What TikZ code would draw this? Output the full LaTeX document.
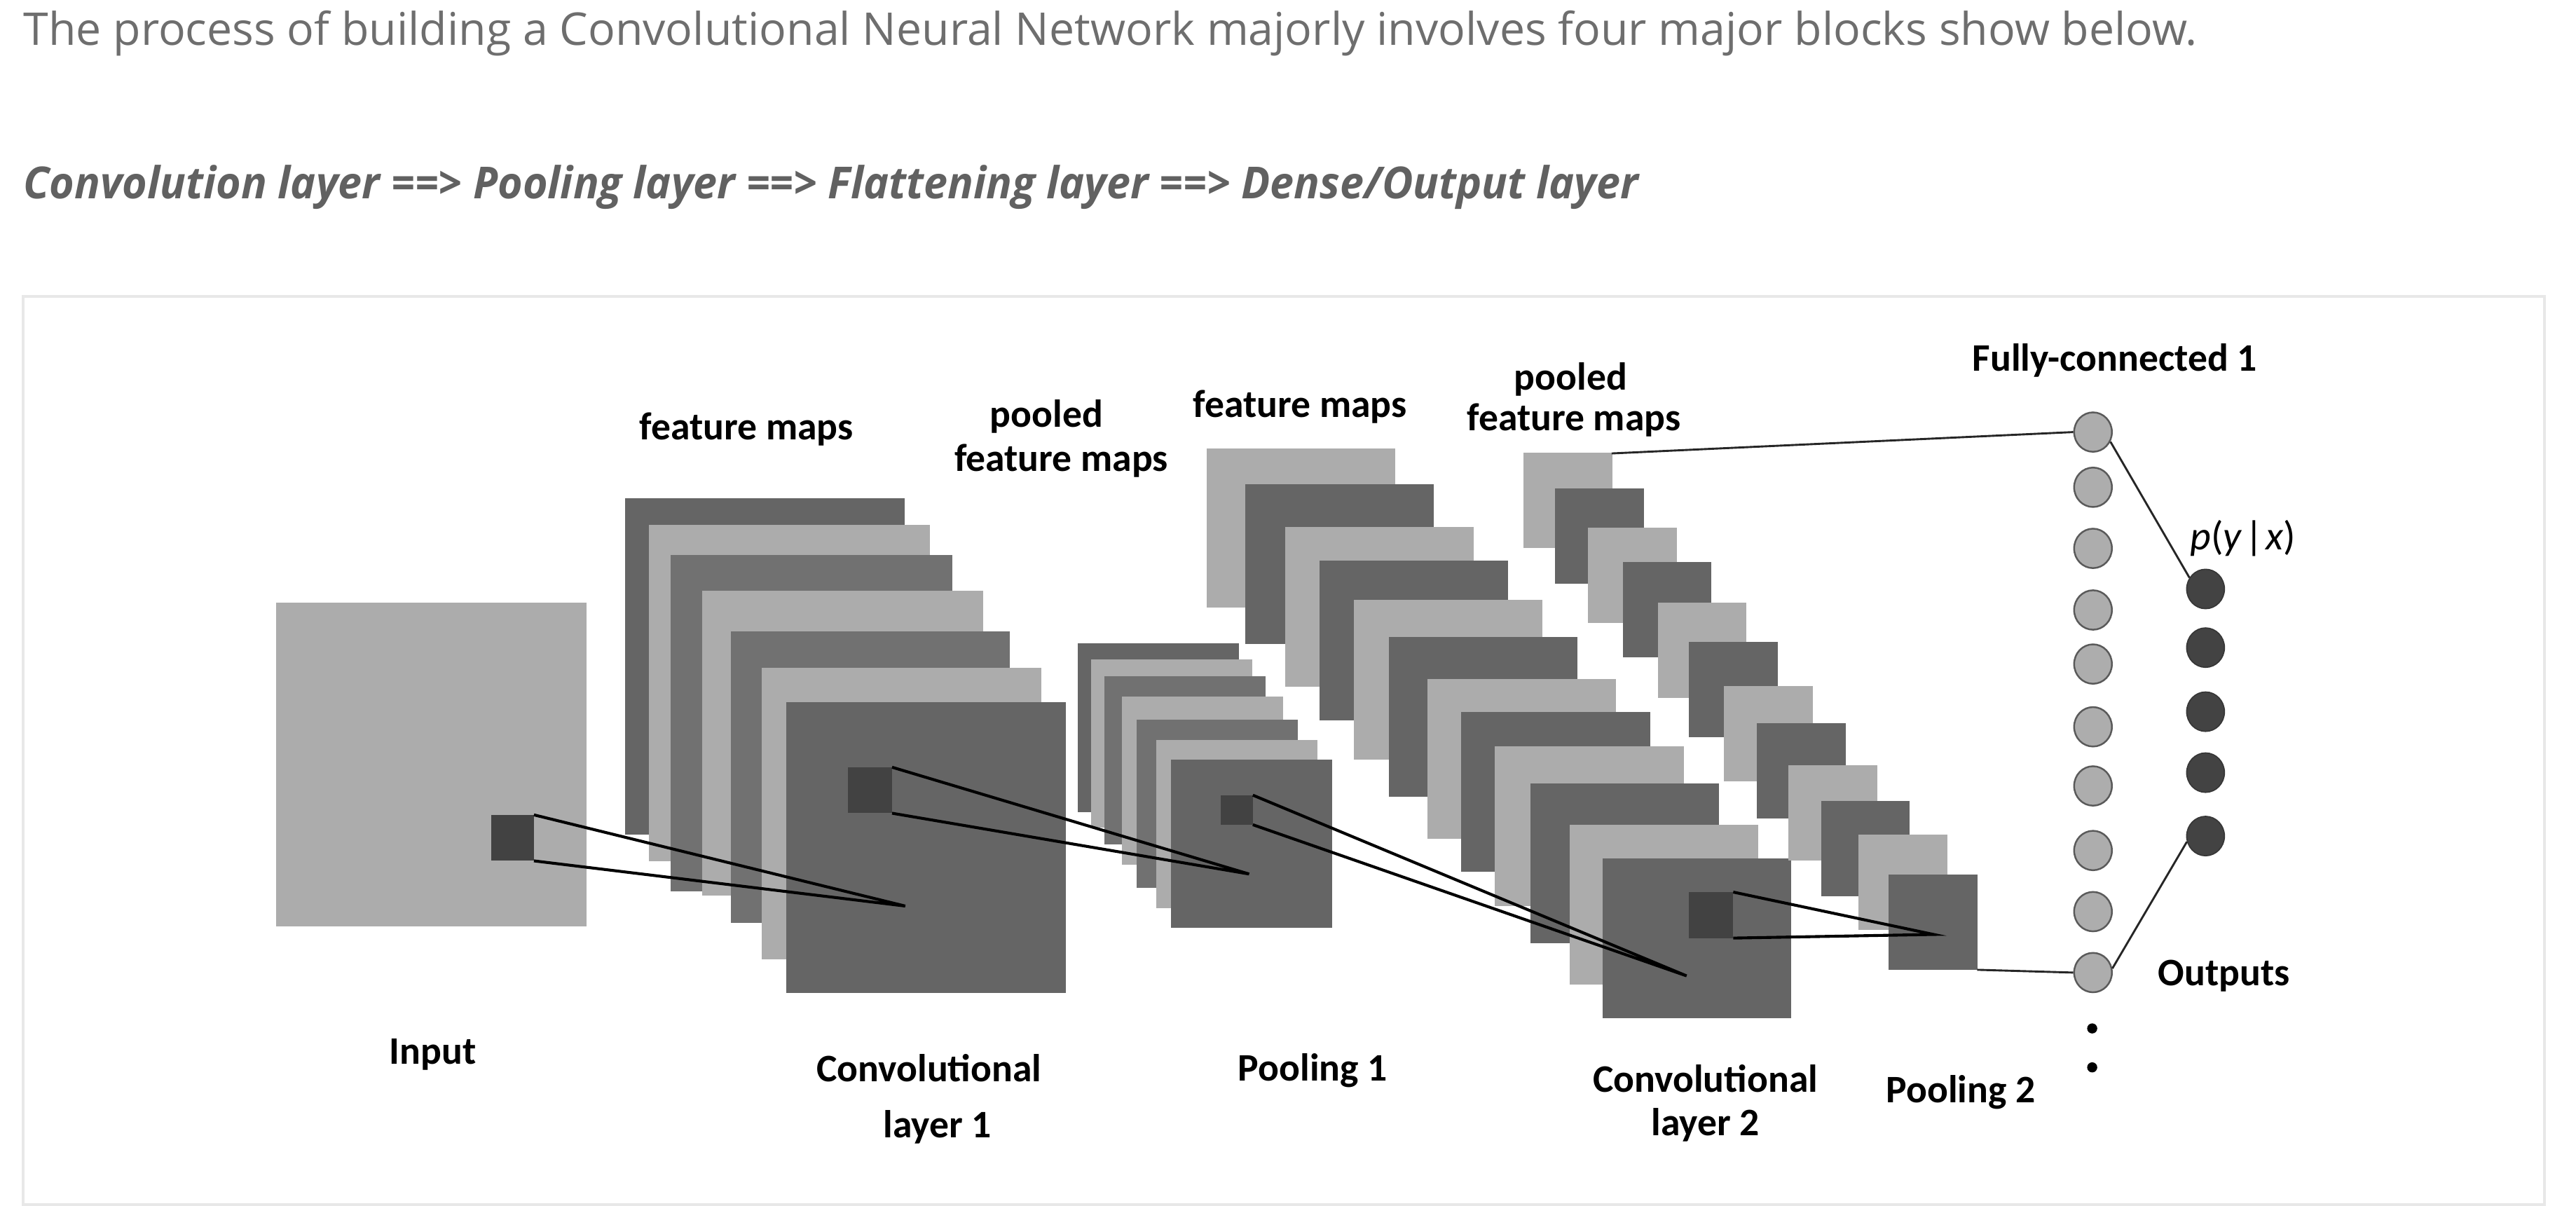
\documentclass[tikz,border=0pt]{standalone}
\usepackage{fontspec}
\setmainfont{Carlito}
\newfontfamily\hdr{Open Sans}
\newfontfamily\hdrbi[FakeStretch=0.968]{Open Sans}
\usetikzlibrary{shapes.geometric}
\definecolor{dkA}{HTML}{656565}
\definecolor{dkB}{HTML}{717171}
\definecolor{ltg}{HTML}{ACACAC}
\definecolor{sqc}{HTML}{424242}
\definecolor{hdrc}{HTML}{6E6E6E}
\definecolor{hdrb}{HTML}{616161}
\definecolor{framec}{HTML}{E8E8E8}
\definecolor{fcfill}{HTML}{ADADAD}
\definecolor{fcline}{HTML}{5A5A5A}
\definecolor{outc}{HTML}{434343}
\tikzset{
  lbl/.style={anchor=base, font=\bfseries\fontsize{13.5}{16}\selectfont, text=black, inner sep=0pt},
  conn/.style={black, line width=1pt},
  fcn/.style={ellipse, fill=fcfill, draw=fcline, line width=0.6pt, minimum width=0.46cm, minimum height=0.48cm, inner sep=0pt},
  outn/.style={ellipse, fill=outc, draw=outc!80!black, line width=0.4pt, minimum width=0.46cm, minimum height=0.48cm, inner sep=0pt},
  fcconn/.style={black!85, line width=0.7pt},
}
\begin{document}
\begin{tikzpicture}[x=0.02cm,y=-0.02cm]
\useasboundingbox (0,0) rectangle (1568,734);
\fill[white] (0,0) rectangle (1568,734);
% header
\node[anchor=base west, inner sep=0pt, text=hdrc, font=\hdr\fontsize{15.63}{18}\selectfont] (h1) at (14,27.7) {The process of building a Convolutional Neural Network majorly involves four major blocks show below.};
\node[anchor=base west, inner sep=0pt, text=hdrb, font=\hdrbi\bfseries\itshape\fontsize{15.3}{18}\selectfont] (h2) at (14,120.9) {Convolution layer ==> Pooling layer ==> Flattening layer ==> Dense/Output layer};
% frame
\draw[framec, line width=1pt] (14,180.5) rectangle (1548.8,733.2);
% input
\fill[ltg] (168,367) rectangle (357,564);
% stack 1: conv layer 1 feature maps
\fill[dkA] (380.6,303.3) rectangle (550.8,508);
\fill[ltg] (395,319.6) rectangle (566,524.4);
\fill[dkB] (408.4,337.7) rectangle (579.5,542.5);
\fill[ltg] (427.5,359.6) rectangle (598.6,545);
\fill[dkB] (445,384.2) rectangle (614.8,561.7);
\fill[ltg] (463.8,406.7) rectangle (634,584);
\fill[dkA] (478.7,427.4) rectangle (648.8,604.4);
% stack 2: pooling 1
\foreach \x/\y/\c in {656/391.7/dkA, 664.3/401.2/ltg, 672.3/411.5/dkB, 683/424/ltg, 692/438/dkB, 704/450.5/ltg, 712.7/462.4/dkA}
  \fill[\c] (\x,\y) rectangle ++(98,102.5);
% stack 3: conv layer 2 feature maps
\foreach \x/\y/\c in {734.4/272.8/ltg, 758/294.8/dkA, 782.4/320.9/ltg, 803.3/341.3/dkA, 823.9/365.3/ltg, 845.2/387.6/dkA, 868.9/413.2/ltg, 889.5/433.3/dkA, 910/454.3/ltg, 931.4/476.9/dkA, 955.4/502.2/ltg, 975.3/522.7/dkA}
  \fill[\c] (\x,\y) rectangle ++(114.8,97.2);
% stack 4: pooling 2
\foreach \x/\y/\c in {927.5/275.5/ltg, 946.6/297.3/dkA, 966.7/321/ltg, 987.7/342.2/dkA, 1009/366.7/ltg, 1028/390.6/dkA, 1049.4/417.5/ltg, 1069.5/440.1/dkA, 1088.6/465.9/ltg, 1108.4/487.7/dkA, 1131.2/508/ltg, 1149.5/532.5/dkA}
  \fill[\c] (\x,\y) rectangle ++(54,58);
% small receptive squares
\fill[sqc] (299,496) rectangle (325,524);
\fill[sqc] (516,467) rectangle (543,495);
\fill[sqc] (743,484) rectangle (762.6,502);
\fill[sqc] (1028,543) rectangle (1055,571);
% coordinates
\coordinate (s1a) at (325,496); \coordinate (s1b) at (325,524); \coordinate (ap1) at (551,551.5);
\coordinate (s2a) at (543,467); \coordinate (s2b) at (543,495); \coordinate (ap2) at (760.3,532);
\coordinate (s3a) at (762.6,484); \coordinate (s3b) at (762.6,502); \coordinate (ap3) at (1026.6,594);
\coordinate (s4a) at (1055,543); \coordinate (s4b) at (1055,571); \coordinate (ap4) at (1177,568.8);
\coordinate (q1ne) at (981,276); \coordinate (q12se) at (1203.5,590.3);
\draw[conn] (s1a) -- (ap1) -- (s1b);
\draw[conn] (s2a) -- (ap2) -- (s2b);
\draw[conn] (s3a) -- (ap3) -- (s3b);
\draw[conn] (s4a) -- (ap4) -- (s4b);
% fully connected
\foreach \i/\y in {1/263, 2/296.6, 3/333.8, 4/371.3, 5/404.2, 6/442.4, 7/478.4, 8/517.7, 9/554.9, 10/592}
  \node[fcn] (f\i) at (1274,\y) {};
\foreach \i/\y in {1/358.5, 2/394.2, 3/433.2, 4/470.3, 5/508.9}
  \node[outn] (o\i) at (1342.5,\y) {};
\node[circle, fill=black, inner sep=0pt, minimum size=3.5pt] (d1) at (1273.5,626) {};
\node[circle, fill=black, inner sep=0pt, minimum size=3.5pt] (d2) at (1273.5,649.7) {};
\draw[fcconn] (q1ne) -- (f1.west);
\draw[fcconn] (q12se) -- (f10.west);
\draw[fcconn] (f1.-29) -- (o1.145);
\draw[fcconn] (f10.12) -- (o5.197);
% labels
\node[lbl] (l1) at (454.4,267.6) {feature maps};
\node[lbl] (l2a) at (637,259.9) {pooled};
\node[lbl] (l2b) at (646,287) {feature maps};
\node[lbl] (l3) at (791.3,253.8) {feature maps};
\node[lbl] (l4a) at (956.1,237.4) {pooled};
\node[lbl] (l4b) at (958,262) {feature maps};
\node[lbl] (l5) at (1287.2,225.9) {Fully-connected 1};
\node[anchor=base, inner sep=0pt, font=\fontsize{14}{16}\selectfont] (l6) at (1365.3,334.8) {\textit{p}(\textit{y}\kern0.8pt|\kern0.8pt\textit{x})};
\node[lbl] (l7) at (1353.7,600.1) {Outputs};
\node[lbl] (l8) at (263.5,647.8) {Input};
\node[lbl] (l9a) at (565.5,658.4) {Convolutional};
\node[lbl] (l9b) at (570.5,692.5) {layer 1};
\node[lbl] (l10) at (799,658) {Pooling 1};
\node[lbl] (l11a) at (1038,664.8) {Convolutional};
\node[lbl] (l11b) at (1038,691.2) {layer 2};
\node[lbl] (l12) at (1193.5,671.2) {Pooling 2};
\end{tikzpicture}
\end{document}
